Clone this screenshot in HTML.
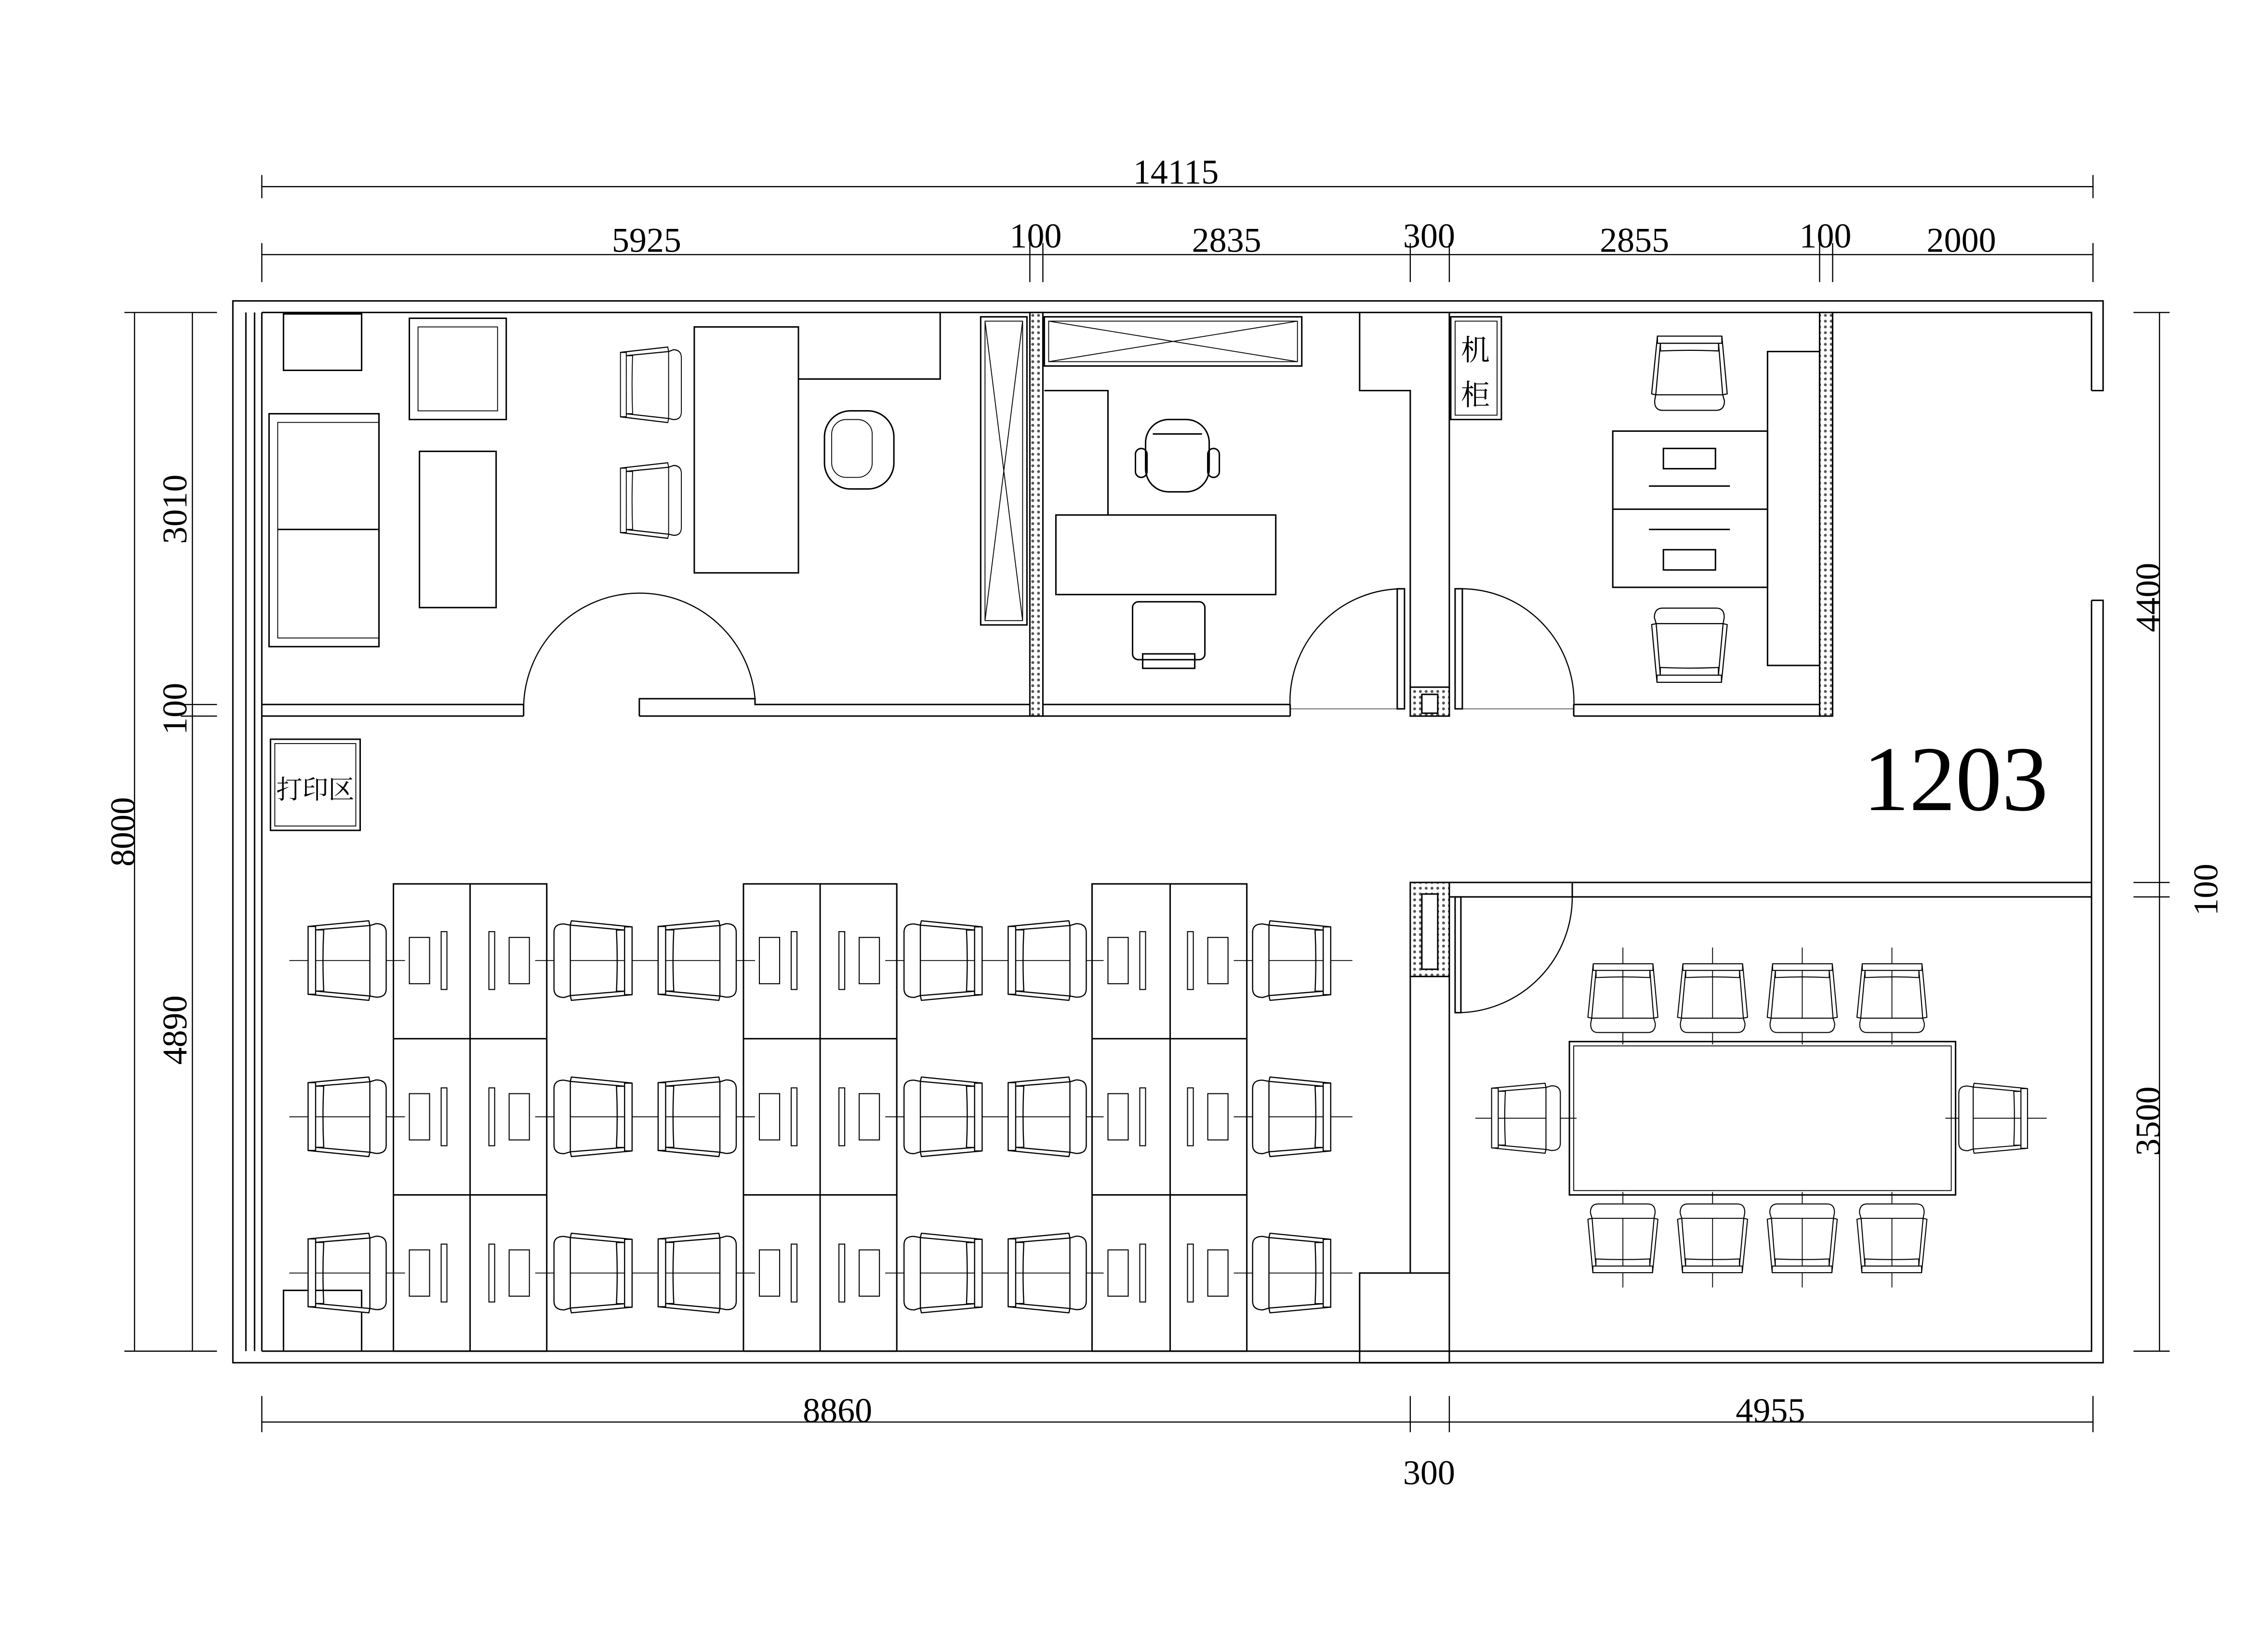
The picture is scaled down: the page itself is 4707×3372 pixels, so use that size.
<!DOCTYPE html>
<html><head><meta charset="utf-8"><style>
html,body{margin:0;padding:0;background:#fff;}
svg{display:block;}
text{font-family:"Liberation Serif","Noto Serif CJK SC",serif;fill:#000;}
</style></head><body>
<svg xmlns="http://www.w3.org/2000/svg" width="4707" height="3372" viewBox="0 0 1568 1123.3" preserveAspectRatio="none">
<defs>
<pattern id="h" width="4" height="4" patternUnits="userSpaceOnUse"><rect width="4" height="4" fill="#fff"/><circle cx="2" cy="2" r="1" fill="#555"/></pattern>
<symbol id="ch" viewBox="0 0 54 55" overflow="visible">
<g fill="#fff" stroke="#000" stroke-width="0.8" stroke-linejoin="round">
<path d="M42.7,3.3 L47,2 Q54,2 54,8 L54,47 Q54,53 47,52.8 L42.7,52 L42.7,3.3 Z"/>
<path d="M0,3.9 L42,0 L42.7,3.3 L5.2,6.3 Z"/>
<path d="M0,50.8 L42,55 L42.7,52 L5.2,48.6 Z"/>
<rect x="0" y="3.9" width="5.2" height="46.9"/>
<path d="M5.2,6.3 L10.8,6.3 Q9.8,27.5 10.8,48.6 L5.2,48.6" fill="none"/>
</g></symbol>
</defs>
<rect width="1568" height="1124" fill="#fff"/>
<g stroke="#000" stroke-width="0.8" fill="none">
<line x1="181" y1="129" x2="1447" y2="129"/>
<line x1="181" y1="121" x2="181" y2="137"/><line x1="1447" y1="121" x2="1447" y2="137"/>
<line x1="181" y1="176" x2="1447" y2="176"/>
<line x1="181" y1="168" x2="181" y2="195"/><line x1="712" y1="168" x2="712" y2="195"/><line x1="721" y1="168" x2="721" y2="195"/>
<line x1="975" y1="168" x2="975" y2="195"/><line x1="1002" y1="168" x2="1002" y2="195"/><line x1="1258" y1="168" x2="1258" y2="195"/>
<line x1="1267" y1="168" x2="1267" y2="195"/><line x1="1447" y1="168" x2="1447" y2="195"/>
<line x1="93" y1="216" x2="93" y2="934"/>
<line x1="86" y1="216" x2="150" y2="216"/><line x1="86" y1="934" x2="150" y2="934"/>
<line x1="133" y1="216" x2="133" y2="934"/>
<line x1="125" y1="487" x2="150" y2="487"/><line x1="125" y1="495" x2="150" y2="495"/>
<line x1="1493" y1="216" x2="1493" y2="934"/>
<line x1="1475" y1="216" x2="1500" y2="216"/><line x1="1475" y1="934" x2="1500" y2="934"/>
<line x1="1475" y1="610" x2="1500" y2="610"/><line x1="1475" y1="620" x2="1500" y2="620"/>
<line x1="181" y1="983" x2="1447" y2="983"/>
<line x1="181" y1="965" x2="181" y2="990"/><line x1="975" y1="965" x2="975" y2="990"/>
<line x1="1002" y1="965" x2="1002" y2="990"/><line x1="1447" y1="965" x2="1447" y2="990"/>
</g>
<g font-size="24" text-anchor="middle">
<text x="813" y="127">14115</text>
<text x="447" y="174">5925</text><text x="716" y="171">100</text><text x="848" y="174">2835</text>
<text x="988" y="171">300</text><text x="1130" y="174">2855</text><text x="1262" y="171">100</text><text x="1356" y="174">2000</text>
<text x="579" y="983">8860</text><text x="1224" y="983">4955</text><text x="988" y="1026">300</text>
<text transform="translate(93,575) rotate(-90)">8000</text>
<text transform="translate(129,352) rotate(-90)">3010</text>
<text transform="translate(129,490) rotate(-90)">100</text>
<text transform="translate(129,712) rotate(-90)">4890</text>
<text transform="translate(1493,413) rotate(-90)">4400</text>
<text transform="translate(1533,615) rotate(-90)">100</text>
<text transform="translate(1493,775) rotate(-90)">3500</text>
</g>
<text x="1352" y="560" font-size="64" text-anchor="middle">1203</text>

<g stroke="#000" stroke-width="1" fill="none">
<polyline points="1446,270 1454,270 1454,208 161,208 161,942 1454,942 1454,415 1446,415"/>
<polyline points="1446,270 1446,216 181,216"/>
<polyline points="1446,415 1446,934 181,934"/>
<line x1="170" y1="216" x2="170" y2="934"/><line x1="176" y1="216" x2="176" y2="934"/><line x1="181" y1="216" x2="181" y2="934"/>
<line x1="181" y1="487" x2="362" y2="487"/><line x1="181" y1="495" x2="362" y2="495"/>
<line x1="362" y1="487" x2="362" y2="495"/>
<polyline points="442,495 442,483 522,483 522,487 712,487"/><line x1="442" y1="495" x2="712" y2="495"/>
<line x1="721" y1="487" x2="892" y2="487"/><line x1="721" y1="495" x2="892" y2="495"/><line x1="892" y1="487" x2="892" y2="495"/>
<line x1="1088" y1="487" x2="1258" y2="487"/><line x1="1088" y1="495" x2="1258" y2="495"/><line x1="1088" y1="487" x2="1088" y2="495"/>
<path d="M362,490 A80,80 0 0 1 442,410 A80,80 0 0 1 522,483" stroke-width="0.8"/>
<path d="M892,490 A78,78 0 0 1 970,407" stroke-width="0.8"/>
<rect x="966" y="407" width="5" height="83"/>
<path d="M1088,490 A78,78 0 0 0 1010,407" stroke-width="0.8"/>
<rect x="1006" y="407" width="5" height="83"/>
<line x1="892" y1="490" x2="966" y2="490" stroke-width="0.4"/><line x1="1011" y1="490" x2="1088" y2="490" stroke-width="0.4"/>
<rect x="712" y="216" width="9" height="279" fill="url(#h)"/>
<rect x="1258" y="216" width="9" height="279" fill="url(#h)"/>
<rect x="975" y="475" width="27" height="20" fill="url(#h)"/>
<rect x="983" y="480" width="11" height="13" fill="#fff"/>
<polyline points="940,216 940,270 975,270 975,475"/>
<line x1="1002" y1="216" x2="1002" y2="475"/>
<line x1="1002" y1="610" x2="1446" y2="610"/><line x1="1002" y1="620" x2="1446" y2="620"/>
<line x1="1087" y1="610" x2="1087" y2="620"/>
<rect x="975" y="610" width="27" height="65" fill="url(#h)"/>
<rect x="983" y="618" width="11" height="52" fill="#fff"/>
<line x1="975" y1="675" x2="975" y2="880"/><line x1="1002" y1="675" x2="1002" y2="880"/>
<rect x="940" y="880" width="62" height="62"/>
<rect x="1006" y="620" width="4" height="80"/>
<path d="M1010,700 A80,80 0 0 0 1087,620" stroke-width="0.8"/>
<rect x="1085" y="720" width="267" height="106"/>
<rect x="1088" y="723" width="261" height="100" stroke-width="0.6"/>
<rect x="187" y="511" width="62" height="63"/><rect x="190" y="514" width="56" height="57" stroke-width="0.6"/>
<rect x="196" y="217" width="54" height="39"/>
<rect x="283" y="220" width="67" height="70"/><rect x="289" y="226" width="55" height="58" stroke-width="0.6"/>
<rect x="186" y="286" width="76" height="161"/><rect x="192" y="292" width="70" height="149" stroke-width="0.6"/>
<line x1="192" y1="366" x2="262" y2="366"/>
<rect x="290" y="312" width="53" height="108"/>
<rect x="480" y="226" width="72" height="170"/>
<polyline points="552,262 650,262 650,216"/>
<rect x="570" y="284" width="48" height="54" rx="18"/>
<rect x="575" y="290" width="28" height="40" rx="10" stroke-width="0.6"/>
<rect x="678" y="219" width="32" height="213"/><rect x="681" y="222" width="26" height="207" stroke-width="0.6"/>
<path d="M681,222 L707,429 M707,222 L681,429" stroke-width="0.6"/>
<rect x="722" y="219" width="178" height="34"/><rect x="725" y="222" width="172" height="28" stroke-width="0.6"/>
<path d="M725,222 L897,250 M897,222 L725,250" stroke-width="0.6"/>
<polyline points="722,270 766,270 766,356"/>
<rect x="730" y="356" width="152" height="55"/>
<rect x="792" y="290" width="44" height="50" rx="16"/>
<rect x="785" y="310" width="8" height="20" rx="4"/><rect x="835" y="310" width="8" height="20" rx="4"/>
<line x1="797" y1="300" x2="831" y2="300"/>
<rect x="783" y="416" width="50" height="40" rx="4"/>
<rect x="790" y="452" width="36" height="10"/>
<rect x="1003" y="219" width="35" height="71"/><rect x="1006" y="222" width="29" height="65" stroke-width="0.6"/>
<rect x="1115" y="298" width="107" height="108"/>
<line x1="1115" y1="352" x2="1222" y2="352"/>
<rect x="1150" y="310" width="36" height="14"/><rect x="1150" y="380" width="36" height="14"/>
<line x1="1140" y1="336" x2="1196" y2="336"/><line x1="1140" y1="366" x2="1196" y2="366"/>
<rect x="1222" y="243" width="36" height="217"/>
<rect x="272" y="611" width="106" height="323"/><line x1="325" y1="611" x2="325" y2="934"/>
<rect x="514" y="611" width="106" height="323"/><line x1="567" y1="611" x2="567" y2="934"/>
<rect x="755" y="611" width="107" height="323"/><line x1="809" y1="611" x2="809" y2="934"/>
<line x1="272" y1="718" x2="378" y2="718"/><line x1="272" y1="826" x2="378" y2="826"/>
<line x1="514" y1="718" x2="620" y2="718"/><line x1="514" y1="826" x2="620" y2="826"/>
<line x1="755" y1="718" x2="862" y2="718"/><line x1="755" y1="826" x2="862" y2="826"/>
<polyline points="196,934 196,892 250,892 250,934"/>
</g>
<g stroke="#000" stroke-width="0.7" fill="none">
<g id="mon">
<rect x="283" y="648" width="14" height="32"/><rect x="305" y="644" width="4" height="40"/>
<rect x="338" y="644" width="4" height="40"/><rect x="352" y="648" width="14" height="32"/>
</g>
<use href="#mon" y="108"/><use href="#mon" y="216"/>
<use href="#mon" x="242"/><use href="#mon" x="242" y="108"/><use href="#mon" x="242" y="216"/>
<use href="#mon" x="483"/><use href="#mon" x="483" y="108"/><use href="#mon" x="483" y="216"/>
<g stroke-width="0.6">
<line x1="200" y1="664" x2="280" y2="664"/><line x1="370" y1="664" x2="522" y2="664"/><line x1="612" y1="664" x2="763" y2="664"/><line x1="853" y1="664" x2="935" y2="664"/>
<line x1="200" y1="772" x2="280" y2="772"/><line x1="370" y1="772" x2="522" y2="772"/><line x1="612" y1="772" x2="763" y2="772"/><line x1="853" y1="772" x2="935" y2="772"/>
<line x1="200" y1="880" x2="280" y2="880"/><line x1="370" y1="880" x2="522" y2="880"/><line x1="612" y1="880" x2="763" y2="880"/><line x1="853" y1="880" x2="935" y2="880"/>
<line x1="1020" y1="773" x2="1090" y2="773"/><line x1="1345" y1="773" x2="1415" y2="773"/>
<line x1="1122" y1="655" x2="1122" y2="722"/><line x1="1184" y1="655" x2="1184" y2="722"/>
<line x1="1246" y1="655" x2="1246" y2="722"/><line x1="1308" y1="655" x2="1308" y2="722"/>
<line x1="1122" y1="824" x2="1122" y2="890"/><line x1="1184" y1="824" x2="1184" y2="890"/>
<line x1="1246" y1="824" x2="1246" y2="890"/><line x1="1308" y1="824" x2="1308" y2="890"/>
</g>
</g>
<g>
<use href="#ch" width="54" height="55" transform="translate(240,664) translate(-27,-27.5)"/>
<use href="#ch" width="54" height="55" transform="translate(410,664) rotate(180) translate(-27,-27.5)"/>
<use href="#ch" width="54" height="55" transform="translate(482,664) translate(-27,-27.5)"/>
<use href="#ch" width="54" height="55" transform="translate(652,664) rotate(180) translate(-27,-27.5)"/>
<use href="#ch" width="54" height="55" transform="translate(724,664) translate(-27,-27.5)"/>
<use href="#ch" width="54" height="55" transform="translate(893,664) rotate(180) translate(-27,-27.5)"/>
<use href="#ch" width="54" height="55" transform="translate(240,772) translate(-27,-27.5)"/>
<use href="#ch" width="54" height="55" transform="translate(410,772) rotate(180) translate(-27,-27.5)"/>
<use href="#ch" width="54" height="55" transform="translate(482,772) translate(-27,-27.5)"/>
<use href="#ch" width="54" height="55" transform="translate(652,772) rotate(180) translate(-27,-27.5)"/>
<use href="#ch" width="54" height="55" transform="translate(724,772) translate(-27,-27.5)"/>
<use href="#ch" width="54" height="55" transform="translate(893,772) rotate(180) translate(-27,-27.5)"/>
<use href="#ch" width="54" height="55" transform="translate(240,880) translate(-27,-27.5)"/>
<use href="#ch" width="54" height="55" transform="translate(410,880) rotate(180) translate(-27,-27.5)"/>
<use href="#ch" width="54" height="55" transform="translate(482,880) translate(-27,-27.5)"/>
<use href="#ch" width="54" height="55" transform="translate(652,880) rotate(180) translate(-27,-27.5)"/>
<use href="#ch" width="54" height="55" transform="translate(724,880) translate(-27,-27.5)"/>
<use href="#ch" width="54" height="55" transform="translate(893,880) rotate(180) translate(-27,-27.5)"/>
<use href="#ch" width="54" height="55" transform="translate(450,266) scale(0.78,0.95) translate(-27,-27.5)"/>
<use href="#ch" width="54" height="55" transform="translate(450,346) scale(0.78,0.95) translate(-27,-27.5)"/>
<use href="#ch" width="54" height="55" transform="translate(1168,258) rotate(90) scale(0.95) translate(-27,-27.5)"/>
<use href="#ch" width="54" height="55" transform="translate(1168,446) rotate(-90) scale(0.95) translate(-27,-27.5)"/>
<use href="#ch" width="54" height="55" transform="translate(1122,690) rotate(90) scale(0.88) translate(-27,-27.5)"/>
<use href="#ch" width="54" height="55" transform="translate(1184,690) rotate(90) scale(0.88) translate(-27,-27.5)"/>
<use href="#ch" width="54" height="55" transform="translate(1246,690) rotate(90) scale(0.88) translate(-27,-27.5)"/>
<use href="#ch" width="54" height="55" transform="translate(1308,690) rotate(90) scale(0.88) translate(-27,-27.5)"/>
<use href="#ch" width="54" height="55" transform="translate(1122,856) rotate(-90) scale(0.88) translate(-27,-27.5)"/>
<use href="#ch" width="54" height="55" transform="translate(1184,856) rotate(-90) scale(0.88) translate(-27,-27.5)"/>
<use href="#ch" width="54" height="55" transform="translate(1246,856) rotate(-90) scale(0.88) translate(-27,-27.5)"/>
<use href="#ch" width="54" height="55" transform="translate(1308,856) rotate(-90) scale(0.88) translate(-27,-27.5)"/>
<use href="#ch" width="54" height="55" transform="translate(1055,773) scale(0.88) translate(-27,-27.5)"/>
<use href="#ch" width="54" height="55" transform="translate(1378,773) rotate(180) scale(0.88) translate(-27,-27.5)"/>
</g>
<g font-size="20" text-anchor="middle">
<text x="1020" y="249">机</text><text x="1020" y="280">柜</text>
<text x="218" y="552" font-size="18">打印区</text>
</g>
</svg>
</body></html>
